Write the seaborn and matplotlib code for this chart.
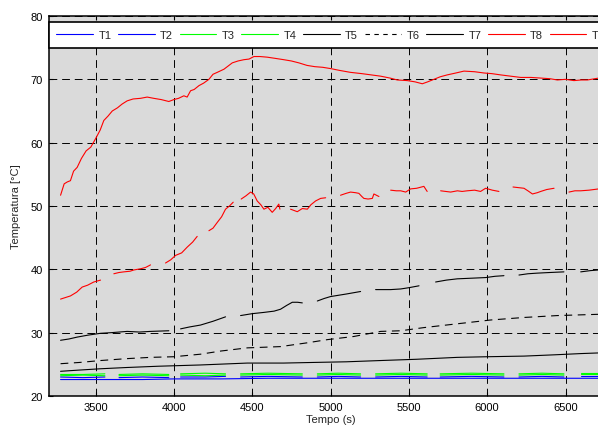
#!/usr/bin/env python3
"""Temperature log T1..T9 against time, redrawn with seaborn."""

import matplotlib
matplotlib.use("Agg")
import matplotlib.pyplot as plt
from matplotlib.lines import Line2D
import pandas as pd
import seaborn as sns

# --- DATA ---
# pairs of (tempo [s], temperatura [C]); None marks a gap in the record
t1 = [(3277, 22.6), (3400, 22.6), (3550, 22.6), (3800, 22.6), (4000, 22.7),
      (4300, 22.7), (4600, 22.8), (5000, 22.8), (5400, 22.8), (5800, 22.8),
      (6200, 22.8), (6500, 22.8), (6800, 22.8)]
t2 = [(3277, 23.0), (3420, 22.9), (3560, 23.0), None,
      (3650, 22.9), (3800, 23.0), (3968, 22.9), None,
      (4043, 23.0), (4200, 23.0), (4330, 23.1), None,
      (4426, 23.0), (4600, 23.1), (4820, 23.0), None,
      (4916, 23.0), (5050, 23.1), (5192, 23.0), None,
      (5288, 23.0), (5450, 23.1), (5617, 23.0), None,
      (5700, 23.0), (5900, 23.1), (6107, 23.0), None,
      (6203, 23.0), (6350, 23.1), (6490, 23.0), None,
      (6597, 23.1), (6800, 23.1)]
t3 = [(3277, 23.2), (3420, 23.3), (3560, 23.2), None,
      (3650, 23.2), (3800, 23.3), (3968, 23.2), None,
      (4043, 23.3), (4200, 23.2), (4330, 23.3), None,
      (4426, 23.3), (4600, 23.4), (4820, 23.3), None,
      (4916, 23.3), (5050, 23.4), (5192, 23.3), None,
      (5288, 23.3), (5450, 23.4), (5617, 23.3), None,
      (5700, 23.3), (5900, 23.4), (6107, 23.3), None,
      (6203, 23.3), (6350, 23.4), (6490, 23.3), None,
      (6597, 23.4), (6800, 23.4)]
t4 = [(3277, 23.4), (3420, 23.4), (3560, 23.5), None,
      (3650, 23.4), (3800, 23.5), (3968, 23.4), None,
      (4043, 23.5), (4200, 23.6), (4330, 23.5), None,
      (4426, 23.5), (4600, 23.6), (4820, 23.5), None,
      (4916, 23.5), (5050, 23.6), (5192, 23.5), None,
      (5288, 23.5), (5450, 23.6), (5617, 23.5), None,
      (5700, 23.5), (5900, 23.6), (6107, 23.5), None,
      (6203, 23.5), (6350, 23.6), (6490, 23.5), None,
      (6597, 23.6), (6800, 23.6)]
t5 = [(3277, 28.8), (3330, 29.0), (3383, 29.3), (3450, 29.6), (3532, 29.9),
      (3600, 30.0), (3702, 30.2), (3780, 30.1), (3851, 30.2), (3968, 30.3), None,
      (4043, 30.6), (4100, 30.9), (4170, 31.2), (4250, 31.8), (4330, 32.5), None,
      (4426, 32.7), (4500, 33.0), (4575, 33.2), (4640, 33.4), (4681, 33.7),
      (4720, 34.3), (4756, 34.8), (4790, 34.8), (4820, 34.7), None,
      (4916, 35.0), (4960, 35.4), (5000, 35.7), (5100, 36.1), (5192, 36.5), None,
      (5288, 36.8), (5384, 36.8), (5448, 36.9), (5500, 37.1), (5565, 37.4), None,
      (5671, 38.0), (5740, 38.3), (5809, 38.5), (5900, 38.6), (5990, 38.7),
      (6050, 38.9), (6107, 39.0), None,
      (6203, 39.1), (6260, 39.3), (6320, 39.4), (6400, 39.5), (6490, 39.6), None,
      (6597, 39.6), (6660, 39.8), (6712, 39.9), (6800, 40.1)]
t6 = [(3277, 25.1), (3400, 25.3), (3532, 25.6), (3700, 25.9), (3850, 26.1),
      (4000, 26.2), (4170, 26.6), (4300, 27.1), (4469, 27.6), (4681, 27.8),
      (4852, 28.4), (4980, 28.9), (5149, 29.4), (5320, 30.2), (5448, 30.3),
      (5596, 30.8), (5809, 31.4), (6022, 32.0), (6235, 32.4), (6448, 32.7),
      (6712, 32.9), (6800, 33.0)]
t7 = [(3277, 23.9), (3400, 24.1), (3532, 24.3), (3700, 24.5), (3900, 24.7),
      (4170, 24.9), (4469, 25.2), (4700, 25.2), (4894, 25.3), (5100, 25.4),
      (5320, 25.6), (5550, 25.8), (5809, 26.1), (6000, 26.2), (6235, 26.3),
      (6427, 26.5), (6600, 26.7), (6712, 26.8), (6800, 26.9)]
t8 = [(3277, 51.7), (3300, 53.5), (3320, 53.8), (3340, 54.0), (3360, 55.5),
      (3383, 56.1), (3410, 57.5), (3440, 58.7), (3470, 59.3), (3500, 60.6),
      (3530, 62.0), (3553, 63.5), (3580, 64.2), (3607, 65.0), (3640, 65.5),
      (3670, 66.1), (3702, 66.6), (3740, 66.9), (3787, 67.0), (3830, 67.2),
      (3872, 67.0), (3920, 66.8), (3968, 66.5), (4000, 66.8), (4030, 67.0),
      (4064, 67.4), (4085, 67.2), (4107, 68.2), (4130, 68.4), (4160, 69.0),
      (4190, 69.4), (4224, 70.0), (4250, 70.8), (4277, 71.1), (4320, 71.6),
      (4373, 72.6), (4410, 72.9), (4447, 73.1), (4480, 73.2), (4511, 73.6),
      (4550, 73.6), (4596, 73.5), (4650, 73.3), (4702, 73.1), (4750, 72.9),
      (4798, 72.6), (4850, 72.2), (4900, 72.0), (4950, 71.9), (5000, 71.7),
      (5060, 71.4), (5128, 71.1), (5200, 70.9), (5260, 70.7), (5320, 70.5),
      (5380, 70.2), (5426, 69.9), (5490, 69.8), (5540, 69.6), (5586, 69.3),
      (5620, 69.6), (5660, 70.0), (5700, 70.4), (5745, 70.7), (5800, 71.0),
      (5852, 71.3), (5920, 71.2), (5980, 71.0), (6030, 70.9), (6086, 70.7),
      (6150, 70.5), (6214, 70.3), (6280, 70.3), (6342, 70.2), (6400, 70.1),
      (6448, 69.9), (6500, 70.0), (6554, 69.8), (6600, 69.9), (6640, 69.9),
      (6712, 70.2), (6760, 70.1), (6800, 70.0)]
t9 = [(3277, 35.3), (3340, 35.8), (3380, 36.4), (3415, 37.2), (3450, 37.5),
      (3489, 38.0), (3532, 38.3), None,
      (3617, 39.3), (3650, 39.5), (3681, 39.6), (3720, 39.7), (3745, 39.9),
      (3790, 40.1), (3820, 40.3), (3851, 40.7), None,
      (3947, 41.0), (3980, 41.5), (4011, 42.2), (4050, 42.6), (4085, 43.5),
      (4120, 44.3), (4149, 45.2), None,
      (4224, 46.1), (4250, 46.5), (4277, 47.4), (4305, 48.3), (4330, 49.5),
      (4355, 50.0), (4379, 50.6), None,
      (4430, 51.1), (4460, 51.6), (4490, 52.2), (4510, 51.9), (4532, 50.8),
      (4555, 50.2), (4575, 49.5), (4600, 49.8), (4628, 49.0), (4650, 49.6),
      (4670, 50.3), (4677, 49.5), None,
      (4745, 49.5), (4788, 49.1), (4820, 49.6), (4852, 49.5), (4875, 50.2),
      (4905, 50.8), (4937, 51.2), (4969, 51.3), None,
      (5064, 51.7), (5100, 52.0), (5128, 52.2), (5160, 52.1), (5181, 52.0),
      (5200, 51.5), (5213, 51.2), (5240, 51.1), (5267, 51.2), (5277, 51.9),
      (5309, 51.5), None,
      (5384, 52.5), (5420, 52.4), (5448, 52.4), (5480, 52.2), (5511, 52.7),
      (5550, 52.8), (5596, 53.1), (5617, 52.3), None,
      (5703, 52.4), (5735, 52.3), (5767, 52.2), (5810, 52.4), (5840, 52.3),
      (5873, 52.4), (5920, 52.5), (5958, 52.3), (5990, 52.8), (6033, 52.5),
      (6075, 52.3), None,
      (6165, 53.0), (6200, 52.9), (6235, 52.8), (6260, 52.4), (6289, 51.9),
      (6320, 52.1), (6342, 52.3), (6380, 52.6), (6427, 52.8), None,
      (6522, 52.2), (6560, 52.4), (6597, 52.4), (6650, 52.5), (6712, 52.7),
      (6760, 52.7), (6800, 52.8)]

sensors = ["T1", "T2", "T3", "T4", "T5", "T6", "T7", "T8", "T9"]
series = [t1, t2, t3, t4, t5, t6, t7, t8, t9]
colors = ["blue", "blue", "#00ff00", "#00ff00", "black", "black", "black", "red", "red"]
x_ticks = [3500, 4000, 4500, 5000, 5500, 6000, 6500]
y_ticks = [20, 30, 40, 50, 60, 70, 80]

# --- LONG TABLE, one unit per unbroken stretch ---
rows = []
for name, pts in zip(sensors, series):
    seg = 0
    for p in pts:
        if p is None:
            seg += 1
            continue
        rows.append((name, f"{name}_{seg}", p[0], p[1]))
df = pd.DataFrame(rows, columns=["sensor", "seg", "tempo", "temp"])

# --- STYLE ---
sns.set_style("ticks", {"axes.facecolor": "#dadada", "axes.edgecolor": "black"})
plt.rcParams["font.family"] = ["Liberation Sans", "DejaVu Sans"]
plt.rcParams["font.size"] = 8

fig = plt.figure(figsize=(5.98, 4.27), dpi=100)
# the original figure was cropped on the right, so the axes run past the edge
ax = fig.add_axes([48.5 / 598, 30 / 427, 564 / 598, 380 / 427])

palette = dict(zip(sensors, colors))
dashes = {s: "" for s in sensors}
dashes["T6"] = (7, 5)

sns.lineplot(data=df, x="tempo", y="temp", hue="sensor", style="sensor",
             units="seg", estimator=None, sort=False, palette=palette,
             dashes=dashes, hue_order=sensors, style_order=sensors,
             linewidth=0.8, legend=False, ax=ax)

ax.set_xlim(3200, 6800)
ax.set_ylim(20, 80)
ax.set_xticks(x_ticks)
ax.set_yticks(y_ticks)
ax.grid(True, color="black", linestyle=(0, (8, 5)), linewidth=0.7)
ax.set_axisbelow(True)
ax.tick_params(direction="in", top=True, right=True, length=3, width=0.8,
               labelsize=8, pad=4, colors="black")
for sp in ax.spines.values():
    sp.set_linewidth(1.1)
    sp.set_color("black")

ax.set_xlabel("Tempo (s)", fontsize=8, labelpad=2)
ax.set_ylabel("Temperatura [°C]", fontsize=8, labelpad=7)

# legend across the top, one row
handles = []
for name, c in zip(sensors, colors):
    ls = (0, (4, 4)) if name == "T6" else "-"
    handles.append(Line2D([], [], color=c, linewidth=0.8, linestyle=ls))
leg = ax.legend(handles, sensors, ncol=9, loc="upper left", mode="expand",
                bbox_to_anchor=(0, 0, 1, 0.984), borderaxespad=0,
                handlelength=3.3, handletextpad=0.5, columnspacing=0.8,
                borderpad=0.7, fontsize=8, frameon=True, fancybox=False,
                framealpha=1, facecolor="white", edgecolor="black")
leg.get_frame().set_linewidth(1.2)

fig.savefig("out.png", dpi=100)
